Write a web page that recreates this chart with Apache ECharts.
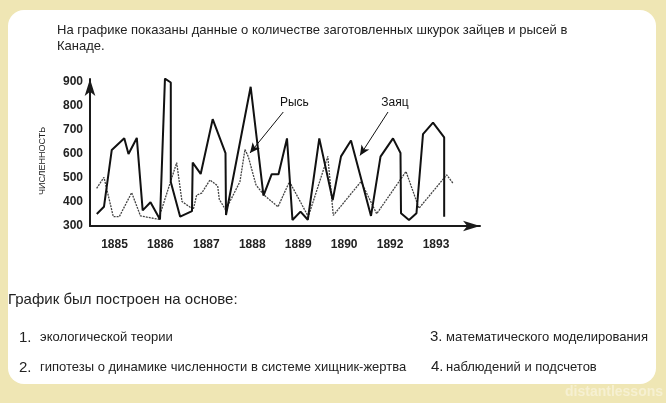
<!DOCTYPE html>
<html><head><meta charset="utf-8">
<script src="https://cdn.jsdelivr.net/npm/echarts@6/dist/echarts.min.js"></script>
<style>html,body{margin:0;padding:0;background:#efe6b4}#c{width:666px;height:403px}</style>
</head><body><div id="c"></div>
<script>
// Tick labels
const xLabels = ['1885','1886','1887','1888','1889','1890','1892','1893'];
const xLabelPos = [0,1,2,3,4,5,6,7];
const yTicks = [300,400,500,600,700,800,900];

// Hare (Заяц): position in label units, value
const hareX = [-0.385,-0.229,-0.059,0.213,0.305,0.486,0.614,0.784,0.991,1.099,1.226,1.226,1.430,1.687,1.703,1.877,2.138,2.417,2.428,2.965,3.244,3.423,3.571,3.756,3.875,4.050,4.209,4.459,4.751,4.932,5.149,5.585,5.792,6.064,6.227,6.238,6.412,6.575,6.717,6.935,7.178,7.178];
const hareY = [350,380,617,666,600,667,365,399,327,914,898,483,339,362,564,517,745,604,346,880,427,516,516,665,325,360,326,665,408,590,656,342,589,665,604,353,325,353,683,731,669,339];

// Lynx (Рысь)
const lynxX = [-0.388,-0.229,-0.026,0.105,0.374,0.566,0.958,1.354,1.470,1.716,1.790,1.899,2.079,2.247,2.282,2.421,2.732,2.841,2.913,3.081,3.255,3.560,3.810,4.220,4.644,4.764,5.367,5.709,6.347,6.630,7.233,7.370];
const lynxY = [457,503,339,339,439,342,328,564,402,369,429,437,492,467,411,367,485,619,589,471,429,380,485,339,590,344,485,351,527,374,513,478];

const labelNames = ['Рысь','Заяц'];
const labelCoords = [[3.917,812],[6.107,812]];
const arrowCoords = [[[3.675,775],[2.95,604]],[[5.955,775],[5.345,594]]];

const titleLines = ['На графике показаны данные о количестве заготовленных шкурок зайцев и рысей в','Канаде.'];
const questionText = 'График был построен на основе:';
const answerNums = ['1.','2.','3.','4.'];
const answerTexts = ['экологической теории','гипотезы о динамике численности в системе хищник-жертва','математического моделирования','наблюдений и подсчетов'];

const chart = echarts.init(document.getElementById('c'), null, {renderer:'canvas'});
const FONT = '"Liberation Sans", Arial, sans-serif';

const graphics = [
  {type:'rect', z:-10, shape:{x:8,y:10,width:648,height:374,r:16}, style:{fill:'#ffffff'}, silent:true},
  {type:'text', x:57, y:24, style:{text:titleLines[0], font:'13px '+FONT, fill:'#222'}},
  {type:'text', x:57, y:40, style:{text:titleLines[1], font:'13px '+FONT, fill:'#222'}},
  {type:'text', x:43, y:161, rotation:Math.PI/2, style:{text:'ЧИСЛЕННОСТЬ', font:'9px '+FONT, fill:'#222', align:'center', verticalAlign:'middle'}},
  {type:'text', x:8, y:292, style:{text:questionText, font:'15px '+FONT, fill:'#222'}},
  {type:'text', x:19, y:330, style:{text:answerNums[0], font:'15px '+FONT, fill:'#222'}},
  {type:'text', x:40, y:331, style:{text:answerTexts[0], font:'13px '+FONT, fill:'#222'}},
  {type:'text', x:19, y:360, style:{text:answerNums[1], font:'15px '+FONT, fill:'#222'}},
  {type:'text', x:40, y:361, style:{text:answerTexts[1], font:'13px '+FONT, fill:'#222'}},
  {type:'text', x:430, y:329, style:{text:answerNums[2], font:'15px '+FONT, fill:'#222'}},
  {type:'text', x:446, y:331, style:{text:answerTexts[2], font:'13px '+FONT, fill:'#222'}},
  {type:'text', x:431, y:359, style:{text:answerNums[3], font:'15px '+FONT, fill:'#222'}},
  {type:'text', x:446, y:361, style:{text:answerTexts[3], font:'13px '+FONT, fill:'#222'}},
  {type:'text', x:565, y:385, style:{text:'distantlessons', font:'bold 14px '+FONT, fill:'#f6f0d2'}}
];

chart.setOption({
  animation:false,
  backgroundColor:'#efe6b4',
  grid:{left:90, right:186, top:79, bottom:177, containLabel:false},
  xAxis:{type:'value', min:-0.533, max:7.958,
    axisLine:{show:true, onZero:false, lineStyle:{color:'#1a1a1a', width:2}, symbol:['none','arrow'], symbolSize:[8,17], symbolOffset:[0,0]},
    axisTick:{show:false}, splitLine:{show:false},
    axisLabel:{customValues:xLabelPos, formatter:v=>xLabels[Math.round(v)], color:'#222', fontSize:12, fontWeight:'bold', fontFamily:FONT, margin:13}
  },
  yAxis:{type:'value', min:300, max:912.5,
    axisLine:{show:true, onZero:false, lineStyle:{color:'#1a1a1a', width:2}, symbol:['none','arrow'], symbolSize:[8,17], symbolOffset:[0,0]},
    axisTick:{show:false}, splitLine:{show:false},
    axisLabel:{customValues:yTicks, color:'#222', fontSize:12, fontWeight:'bold', fontFamily:FONT, margin:7}
  },
  graphic:graphics,
  series:[
    {name:'Рысь', type:'line', symbol:'none', data:lynxX.map((x,i)=>[x,lynxY[i]]),
     lineStyle:{color:'#444', width:1.3, type:[2,1]}},
    {name:'Заяц', type:'line', symbol:'none', data:hareX.map((x,i)=>[x,hareY[i]]),
     lineStyle:{color:'#111', width:2},
     markLine:{silent:true, symbol:['none','arrow'], symbolSize:[7,10], label:{show:false},
       lineStyle:{color:'#111', width:1, type:'solid'},
       data:arrowCoords.map(a=>[{coord:a[0]},{coord:a[1]}])},
     markPoint:{silent:true, symbol:'circle', symbolSize:1, itemStyle:{color:'rgba(0,0,0,0)'},
       label:{show:true, position:'inside', formatter:'{b}', color:'#111', fontSize:12, fontFamily:FONT},
       data:labelNames.map((n,i)=>({name:n, coord:labelCoords[i]}))}
    }
  ]
});
</script></body></html>
